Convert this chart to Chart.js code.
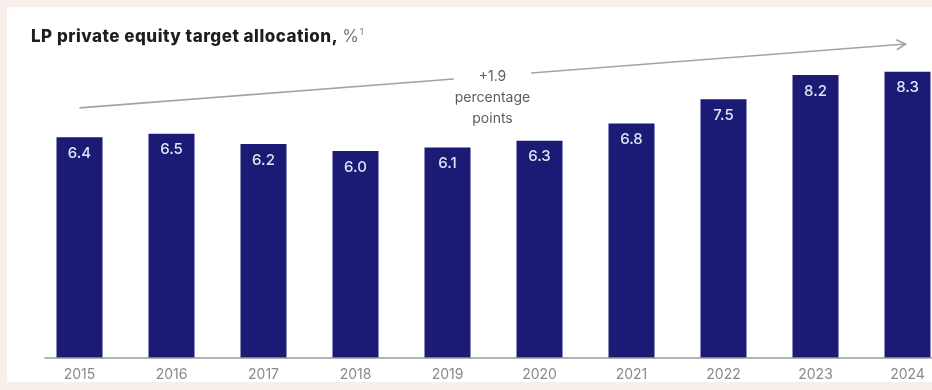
<!DOCTYPE html>
<html>
<head>
<meta charset="utf-8">
<script src="https://cdn.jsdelivr.net/npm/chart.js@4/dist/chart.umd.min.js"></script>
<style>
  html, body { margin: 0; padding: 0; background: #f8efeb; overflow: hidden; }
  #wrap { position: relative; width: 932px; height: 390px; overflow: hidden; }
  canvas { display: block; }
</style>
</head>
<body>
<div id="wrap"><canvas id="chart" width="960" height="390"></canvas></div>
<script>
// Data
const years = ['2015', '2016', '2017', '2018', '2019', '2020', '2021', '2022', '2023', '2024'];
const allocation = [6.4, 6.5, 6.2, 6.0, 6.1, 6.3, 6.8, 7.5, 8.2, 8.3];
const titleMain = 'LP private equity target allocation,';
const titleUnit = '%';
const titleNote = '1';
const trendLabel = ['+1.9', 'percentage', 'points'];
// trend arrow ends, as [category index, value]
const trendStart = [0, 7.25];
const trendEnd = [9, 9.1];

const NAVY = '#1b1b76';
const FONT = "Inter, 'Liberation Sans', Arial, sans-serif";

// white card on the tinted page
const panelPlugin = {
  id: 'panel',
  beforeDraw(chart) {
    const ctx = chart.ctx;
    ctx.save();
    ctx.fillStyle = '#f8efeb';
    ctx.fillRect(0, 0, chart.width, chart.height);
    ctx.fillStyle = '#ffffff';
    ctx.fillRect(7, 7, chart.width - 7, 375);
    ctx.restore();
  }
};

// title, baseline, value labels and the trend arrow
const decorPlugin = {
  id: 'decor',
  afterDatasetsDraw(chart) {
    const ctx = chart.ctx;
    const x = chart.scales.x, y = chart.scales.y;
    ctx.save();

    // title
    ctx.textBaseline = 'alphabetic';
    ctx.textAlign = 'left';
    ctx.font = '800 17px ' + FONT;
    ctx.letterSpacing = '0.5px';
    ctx.fillStyle = '#1e1e1e';
    ctx.fillText(titleMain, 31, 42);
    let tx = 31 + ctx.measureText(titleMain).width + 4;
    ctx.letterSpacing = '0px';
    ctx.font = '17px ' + FONT;
    ctx.fillStyle = '#7a7a7a';
    ctx.fillText(titleUnit, tx, 42);
    tx += ctx.measureText(titleUnit).width + 1;
    ctx.font = '9px ' + FONT;
    ctx.fillText(titleNote, tx, 35);

    // baseline
    ctx.textBaseline = 'middle';
    const y0 = y.getPixelForValue(0);
    ctx.strokeStyle = '#9a9a9a';
    ctx.lineWidth = 1.5;
    ctx.beginPath();
    ctx.moveTo(x.getPixelForValue(0) - 35, y0);
    ctx.lineTo(chart.width, y0);
    ctx.stroke();

    // value labels inside bars
    const meta = chart.getDatasetMeta(0);
    ctx.font = '500 15px ' + FONT;
    ctx.fillStyle = '#e2e3f3';
    ctx.textAlign = 'center';
    meta.data.forEach((bar, i) => {
      ctx.fillText(allocation[i].toFixed(1), bar.x, bar.y + 16);
    });

    // trend arrow with centred label
    const x1 = x.getPixelForValue(trendStart[0]), y1 = y.getPixelForValue(trendStart[1]);
    const x2 = x.getPixelForValue(trendEnd[0]) - 2, y2 = y.getPixelForValue(trendEnd[1]);
    const mx = (x1 + x2) / 2, my = (y1 + y2) / 2;
    ctx.font = '14px ' + FONT;
    const half = Math.max(...trendLabel.map(t => ctx.measureText(t).width)) / 2 + 1;
    const len = Math.hypot(x2 - x1, y2 - y1);
    const ux = (x2 - x1) / len, uy = (y2 - y1) / len;
    const gap = half / ux;
    ctx.strokeStyle = '#a3a3a3';
    ctx.lineWidth = 1.6;
    ctx.beginPath();
    ctx.moveTo(x1, y1);
    ctx.lineTo(mx - ux * gap, my - uy * gap);
    ctx.moveTo(mx + ux * gap, my + uy * gap);
    ctx.lineTo(x2, y2);
    ctx.stroke();
    // arrow head
    const ah = 9, aw = 5;
    ctx.beginPath();
    ctx.moveTo(x2 - ux * ah - uy * aw, y2 - uy * ah + ux * aw);
    ctx.lineTo(x2, y2);
    ctx.lineTo(x2 - ux * ah + uy * aw, y2 - uy * ah - ux * aw);
    ctx.stroke();
    // label
    ctx.fillStyle = '#5e5e5e';
    ctx.textAlign = 'center';
    trendLabel.forEach((t, i) => ctx.fillText(t, mx, my + 1 + i * 21));

    ctx.restore();
  }
};

new Chart(document.getElementById('chart'), {
  type: 'bar',
  data: {
    labels: years,
    datasets: [{
      data: allocation,
      backgroundColor: NAVY,
      borderWidth: 0,
      categoryPercentage: 1,
      barPercentage: 0.5
    }]
  },
  options: {
    responsive: false,
    animation: false,
    devicePixelRatio: 1,
    layout: { padding: { left: 33.5, right: 6.5, top: 13, bottom: 8 } },
    plugins: { legend: { display: false }, tooltip: { enabled: false }, title: { display: false } },
    scales: {
      x: {
        offset: true,
        grid: { display: false, drawTicks: false },
        border: { display: false },
        ticks: { color: '#8a8a8a', font: { family: FONT, size: 14 }, padding: 8, maxRotation: 0 },
        afterFit(scale) { scale.height = 24; }
      },
      y: {
        display: false,
        min: 0,
        max: 10
      }
    }
  },
  plugins: [panelPlugin, decorPlugin]
});
</script>
</body>
</html>
